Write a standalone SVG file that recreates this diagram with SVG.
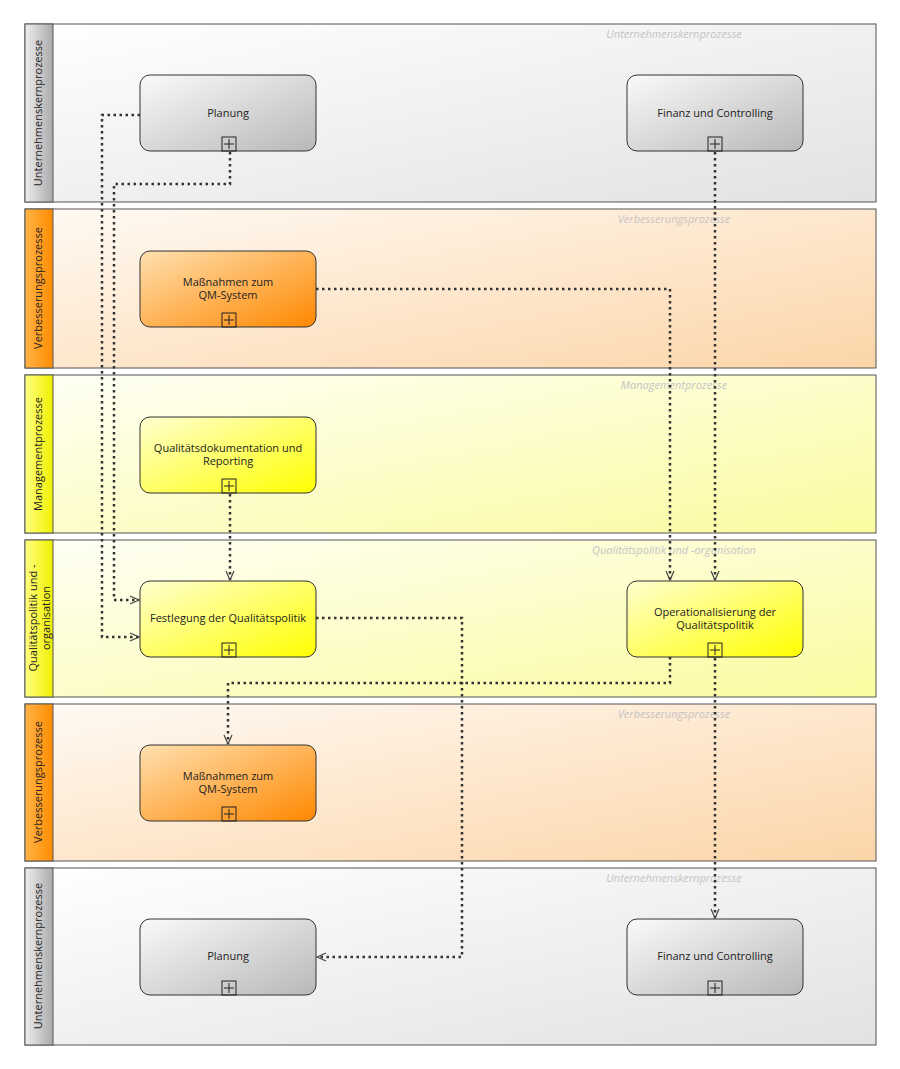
<svg xmlns="http://www.w3.org/2000/svg" width="900" height="1069" viewBox="0 0 900 1069">
<defs>
<linearGradient id="lg" x1="0" y1="0" x2="1" y2="1"><stop offset="0" stop-color="#ffffff"/><stop offset="1" stop-color="#e2e2e2"/></linearGradient>
<linearGradient id="lo" x1="0" y1="0" x2="1" y2="1"><stop offset="0" stop-color="#fffaf4"/><stop offset="1" stop-color="#fcd5a8"/></linearGradient>
<linearGradient id="ly" x1="0" y1="0" x2="1" y2="1"><stop offset="0" stop-color="#fffff6"/><stop offset="1" stop-color="#fbfba0"/></linearGradient>
<linearGradient id="hg" x1="0" y1="0" x2="1" y2="0"><stop offset="0" stop-color="#eeeeee"/><stop offset="1" stop-color="#aaaaaa"/></linearGradient>
<linearGradient id="ho" x1="0" y1="0" x2="1" y2="0"><stop offset="0" stop-color="#ffb347"/><stop offset="1" stop-color="#ff8c00"/></linearGradient>
<linearGradient id="hy" x1="0" y1="0" x2="1" y2="0"><stop offset="0" stop-color="#ffff80"/><stop offset="1" stop-color="#f0f000"/></linearGradient>
<linearGradient id="ng" x1="0" y1="0" x2="1" y2="1"><stop offset="0" stop-color="#fafafa"/><stop offset="1" stop-color="#b8b8b8"/></linearGradient>
<linearGradient id="no" x1="0" y1="0" x2="1" y2="1"><stop offset="0" stop-color="#ffe0b0"/><stop offset="1" stop-color="#ff8800"/></linearGradient>
<linearGradient id="ny" x1="0" y1="0" x2="1" y2="1"><stop offset="0" stop-color="#ffffd0"/><stop offset="1" stop-color="#ffff00"/></linearGradient>
<marker id="ar" markerWidth="12" markerHeight="12" refX="10" refY="5" orient="auto" markerUnits="userSpaceOnUse"><path d="M1,1 L10,5 L1,9" fill="none" stroke="#444" stroke-width="1.2"/></marker>
</defs>
<style>
.lane{stroke:#555;stroke-width:1}
.lt{font-family:"Open Sans",sans-serif;font-size:11px;font-style:italic;fill:#c4c4c4;text-anchor:middle}
.ht{font-family:"Open Sans",sans-serif;font-size:11px;fill:#222;text-anchor:middle}
.node{stroke:#333;stroke-width:1}
.nt{font-family:"Open Sans",sans-serif;font-size:11px;fill:#222;text-anchor:middle}
.plus{fill:none;stroke:#222;stroke-width:1}
.c{fill:none;stroke:#333;stroke-width:2.5;stroke-dasharray:2.5,3.5;marker-end:url(#ar)}
</style>
<g id="lanes">
<rect class="lane" x="25" y="24" width="851" height="178" fill="url(#lg)"/><rect class="lane" x="25" y="24" width="28" height="178" fill="url(#hg)"/>
<text class="lt" x="674" y="38">Unternehmenskernprozesse</text>
<text class="ht" transform="translate(42,113) rotate(-90)">Unternehmenskernprozesse</text>
<rect class="lane" x="25" y="209" width="851" height="159" fill="url(#lo)"/><rect class="lane" x="25" y="209" width="28" height="159" fill="url(#ho)"/>
<text class="lt" x="674" y="223">Verbesserungsprozesse</text>
<text class="ht" transform="translate(42,288) rotate(-90)">Verbesserungsprozesse</text>
<rect class="lane" x="25" y="375" width="851" height="158" fill="url(#ly)"/><rect class="lane" x="25" y="375" width="28" height="158" fill="url(#hy)"/>
<text class="lt" x="674" y="389">Managementprozesse</text>
<text class="ht" transform="translate(42,454) rotate(-90)">Managementprozesse</text>
<rect class="lane" x="25" y="540" width="851" height="157" fill="url(#ly)"/><rect class="lane" x="25" y="540" width="28" height="157" fill="url(#hy)"/>
<text class="lt" x="674" y="554">Qualitätspolitik und -organisation</text>
<text class="ht" transform="translate(37,618) rotate(-90)">Qualitätspolitik und -</text>
<text class="ht" transform="translate(50,618) rotate(-90)">organisation</text>
<rect class="lane" x="25" y="704" width="851" height="157" fill="url(#lo)"/><rect class="lane" x="25" y="704" width="28" height="157" fill="url(#ho)"/>
<text class="lt" x="674" y="718">Verbesserungsprozesse</text>
<text class="ht" transform="translate(42,782) rotate(-90)">Verbesserungsprozesse</text>
<rect class="lane" x="25" y="868" width="851" height="177" fill="url(#lg)"/><rect class="lane" x="25" y="868" width="28" height="177" fill="url(#hg)"/>
<text class="lt" x="674" y="882">Unternehmenskernprozesse</text>
<text class="ht" transform="translate(42,956) rotate(-90)">Unternehmenskernprozesse</text>
</g>
<g id="n1"><rect class="node" x="140" y="75" width="176" height="76" rx="10" fill="url(#ng)"/><text class="nt" x="228" y="117">Planung</text><rect class="plus" x="222" y="137" width="14" height="14"/><path class="plus" d="M224,144h10M229,139v10"/></g>
<g id="n2"><rect class="node" x="627" y="75" width="176" height="76" rx="10" fill="url(#ng)"/><text class="nt" x="715" y="117">Finanz und Controlling</text><rect class="plus" x="708" y="137" width="14" height="14"/><path class="plus" d="M710,144h10M715,139v10"/></g>
<g id="n3"><rect class="node" x="140" y="251" width="176" height="76" rx="10" fill="url(#no)"/><text class="nt" x="228" y="286">Maßnahmen zum</text><text class="nt" x="228" y="299">QM-System</text><rect class="plus" x="222" y="313" width="14" height="14"/><path class="plus" d="M224,320h10M229,315v10"/></g>
<g id="n4"><rect class="node" x="140" y="417" width="176" height="76" rx="10" fill="url(#ny)"/><text class="nt" x="228" y="452">Qualitätsdokumentation und</text><text class="nt" x="228" y="465">Reporting</text><rect class="plus" x="222" y="479" width="14" height="14"/><path class="plus" d="M224,486h10M229,481v10"/></g>
<g id="n5"><rect class="node" x="140" y="581" width="176" height="76" rx="10" fill="url(#ny)"/><text class="nt" x="228" y="622">Festlegung der Qualitätspolitik</text><rect class="plus" x="222" y="643" width="14" height="14"/><path class="plus" d="M224,650h10M229,645v10"/></g>
<g id="n6"><rect class="node" x="627" y="581" width="176" height="76" rx="10" fill="url(#ny)"/><text class="nt" x="715" y="616">Operationalisierung der</text><text class="nt" x="715" y="629">Qualitätspolitik</text><rect class="plus" x="708" y="643" width="14" height="14"/><path class="plus" d="M710,650h10M715,645v10"/></g>
<g id="n7"><rect class="node" x="140" y="745" width="176" height="76" rx="10" fill="url(#no)"/><text class="nt" x="228" y="780">Maßnahmen zum</text><text class="nt" x="228" y="793">QM-System</text><rect class="plus" x="222" y="807" width="14" height="14"/><path class="plus" d="M224,814h10M229,809v10"/></g>
<g id="n8"><rect class="node" x="140" y="919" width="176" height="76" rx="10" fill="url(#ng)"/><text class="nt" x="228" y="960">Planung</text><rect class="plus" x="222" y="981" width="14" height="14"/><path class="plus" d="M224,988h10M229,983v10"/></g>
<g id="n9"><rect class="node" x="627" y="919" width="176" height="76" rx="10" fill="url(#ng)"/><text class="nt" x="715" y="960">Finanz und Controlling</text><rect class="plus" x="708" y="981" width="14" height="14"/><path class="plus" d="M710,988h10M715,983v10"/></g>
<g id="connectors">
<path class="c" d="M140,115 H102 V637 H139"/>
<path class="c" d="M230,152 V184 H114 V600 H139"/>
<path class="c" d="M316,289 H670 V580"/>
<path class="c" d="M715,152 V580"/>
<path class="c" d="M230,494 V580"/>
<path class="c" d="M316,618 H462 V957 H317"/>
<path class="c" d="M670,657 V683 H228 V744"/>
<path class="c" d="M715,658 V918"/>
</g>
</svg>
